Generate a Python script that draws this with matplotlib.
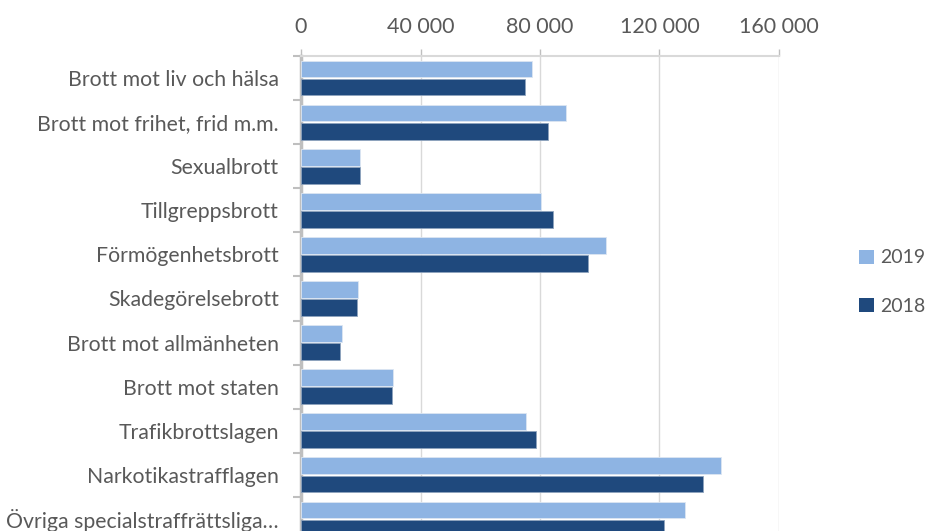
import matplotlib.pyplot as plt
import numpy as np
from matplotlib.ticker import FuncFormatter
from matplotlib.patches import Patch

categories = [
    'Brott mot liv och hälsa',
    'Brott mot frihet, frid m.m.',
    'Sexualbrott',
    'Tillgreppsbrott',
    'Förmögenhetsbrott',
    'Skadegörelsebrott',
    'Brott mot allmänheten',
    'Brott mot staten',
    'Trafikbrottslagen',
    'Narkotikastrafflagen',
    'Övriga specialstraffrättsliga…',
]
v2019 = [77400, 88800, 19900, 80500, 102000, 19100, 13800, 30900, 75300, 140600, 128600]
v2018 = [75000, 82700, 19700, 84400, 96000, 18700, 12900, 30300, 78500, 134500, 121500]

light = '#8EB4E3'
dark = '#1F497D'
grey = '#BFBFBF'
text_col = '#595959'

plt.rcParams['font.family'] = ['Lato', 'DejaVu Sans']

fig = plt.figure(figsize=(9.29, 5.31), dpi=100)
# axes extends below the figure, the last category is cut off like the original
ax = fig.add_axes([301 / 929, 1 - 541 / 531, 478 / 929, 485 / 531])

y = np.arange(len(categories))
h = 0.38
ax.barh(y - 0.205, v2019, h, color=light, edgecolor='#DCE6F2', linewidth=0.6, zorder=3)
ax.barh(y + 0.205, v2018, h, color=dark, edgecolor='#8FA4BE', linewidth=0.6, zorder=3)

ax.set_xlim(0, 160000)
ax.set_ylim(len(categories) - 0.5, -0.5)
ax.set_xticks([0, 40000, 80000, 120000, 160000])
ax.xaxis.set_major_formatter(FuncFormatter(lambda v, p: f'{int(v):,}'.replace(',', ' ')))
ax.xaxis.tick_top()
ax.tick_params(axis='x', colors=grey, labelcolor=text_col, labelsize=15.5, length=5, width=1, pad=9)
ax.grid(axis='x', color='#D9D9D9', linewidth=1, zorder=0)

ax.set_yticks(y)
ax.set_yticklabels(categories)
ax.set_yticks(np.arange(len(categories) + 1) - 0.5, minor=True)
ax.tick_params(axis='y', which='major', length=0, labelsize=15.3, labelcolor=text_col, pad=16)
ax.tick_params(axis='y', which='minor', length=6, width=1.5, color=grey)

for side in ['right', 'bottom']:
    ax.spines[side].set_visible(False)
ax.spines['top'].set_color('#D9D9D9')
ax.spines['top'].set_linewidth(1.5)
ax.spines['left'].set_color(grey)
ax.spines['left'].set_linewidth(2.5)

handles = [Patch(facecolor=light, label='2019'), Patch(facecolor=dark, label='2018')]
fig.legend(handles=handles, loc='center left', bbox_to_anchor=(859 / 929, 1 - 282 / 531), frameon=False,
           borderpad=0, borderaxespad=0,
           fontsize=14, labelcolor=text_col, handlelength=0.75, handleheight=0.75,
           handletextpad=0.35, labelspacing=1.6)

fig.savefig('out.png', dpi=100)
